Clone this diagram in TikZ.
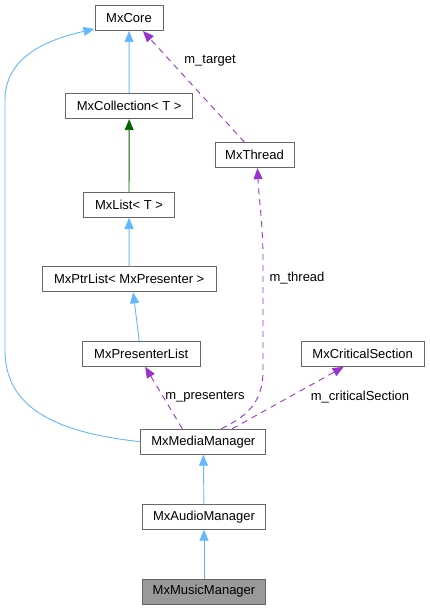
\documentclass[tikz,border=0pt]{standalone}
\usepackage{fontspec}
\setmainfont{Liberation Sans}
\usepackage{tikz}
\usetikzlibrary{arrows.meta}
\definecolor{edgeblue}{HTML}{63B8FF}
\definecolor{edgegreen}{HTML}{006400}
\definecolor{edgepurple}{HTML}{9A32CD}
\definecolor{boxgray}{HTML}{666666}
\definecolor{focusgray}{HTML}{999999}

\begin{document}
\begin{tikzpicture}[
x=1pt,y=-1pt,
font=\fontsize{13}{15}\selectfont,
cls/.style={draw=boxgray,fill=white,line width=1pt,minimum height=25pt,inner sep=0pt},
isa/.style={-{Triangle[length=11pt,width=9pt]},draw=edgeblue,line width=0.9pt},
tmpl/.style={isa,draw=edgegreen},
member/.style={-{Triangle[length=11pt,width=9pt,sep=0pt]},draw=edgepurple,line width=0.9pt,dash pattern=on 6pt off 5pt}]
    % frame
    \useasboundingbox (0,0) rectangle (429,609);

    % classes
    \node[cls,minimum width=68pt]    (core)  at (129,18)    {MxCore};
    \node[cls,minimum width=127pt]   (coll)  at (129.2,106.2) {MxCollection< T >};
    \node[cls,minimum width=79pt]    (thread) at (254.5,155.2) {MxThread};
    \node[cls,minimum width=91.4pt]  (list)  at (129,204.8) {MxList< T >};
    \node[cls,minimum width=173.7pt] (ptr)   at (129.2,279.3) {MxPtrList< MxPresenter >};
    \node[cls,minimum width=117.7pt] (presl) at (141.2,353.8) {MxPresenterList};
    \node[cls,minimum width=123.3pt] (crit)  at (362.7,353.8) {MxCriticalSection};
    \node[cls,minimum width=124.7pt] (media) at (203.3,441.7) {MxMediaManager};
    \node[cls,minimum width=123.4pt] (audio) at (204,516.7) {MxAudioManager};
    \node[cls,minimum width=123.4pt,fill=focusgray] (music) at (204,591.5) {MxMusicManager};

    % inheritance
    \draw[isa] (coll) -- (core);
    \draw[tmpl] (list) -- (coll);
    \draw[isa] (ptr) -- (list);
    \draw[isa] ([xshift=-2pt]presl.north) -- ([xshift=4pt]ptr.south);
    \draw[isa] (audio) -- (media);
    \draw[isa] (music) -- (audio);
    \draw[isa] (media.west) .. controls (50,432) and (5,405) .. (5,350)
        -- (5,100) .. controls (5,58) and (45,40) .. ([yshift=2pt]core.south west);

    % members
    \draw[member] ([xshift=-10pt]thread.north) -- ([xshift=14pt]core.south);
    \node (ltarget) at (210,61) {m\_target};
    \draw[member] ([xshift=18pt]media.north) .. controls (250,415) and (263,400) .. (263,370)
        -- (263,260) .. controls (263,225) and (259,200) .. ([xshift=3pt]thread.south);
    \node[anchor=west] (lthread) at (266,278) {m\_thread};
    \draw[member] ([xshift=-21pt]media.north) -- ([xshift=4pt]presl.south);
    \node (lpres) at (205,397) {m\_presenters};
    \draw[member] ([xshift=29pt]media.north) -- ([xshift=-19pt]crit.south);
    \node (lcrit) at (360,397) {m\_criticalSection};
\end{tikzpicture}
\end{document}
